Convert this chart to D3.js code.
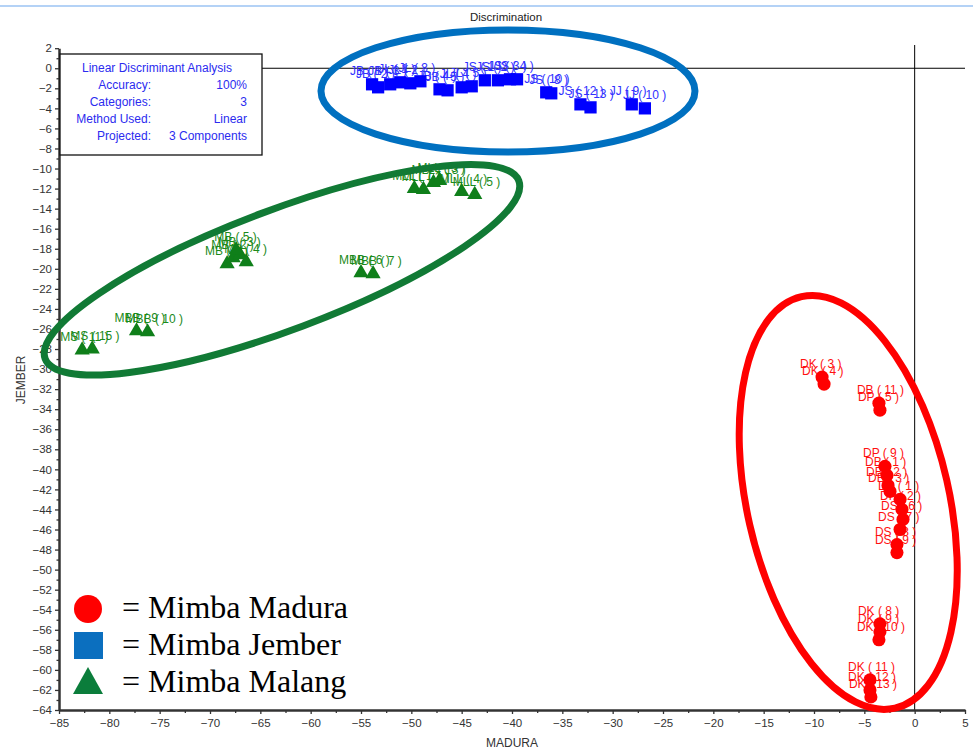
<!DOCTYPE html>
<html><head><meta charset="utf-8">
<script src="https://cdn.jsdelivr.net/npm/d3@7"></script>
<style>
html,body{margin:0;padding:0;background:#fff;}
svg{display:block;font-family:Arial,"Liberation Sans",sans-serif;}
</style></head>
<body>
<svg id="chart" width="973" height="749"></svg>
<script>
// ---------- data ----------
const xTicks = d3.range(-85, 6, 5);
const yTicks = d3.range(-64, 3, 2);

const maduraLabels = ["DK ( 3 )","DK ( 4 )","DB ( 11 )","DP ( 5 )","DP ( 9 )","DB ( 1 )","DB ( 2 )","DB ( 3 )","DP ( 1 )","DP ( 2 )","DS ( 6 )","DS ( 7 )","DS ( 8 )","DS ( 9 )","DK ( 8 )","DK ( 9 )","DK ( 10 )","DK ( 11 )","DK ( 12 )","DK ( 13 )"];
const maduraX = [-9.2,-9.0,-3.55,-3.45,-2.95,-2.75,-2.65,-2.45,-1.45,-1.26,-1.16,-1.45,-1.76,-1.76,-3.45,-3.45,-3.55,-4.44,-4.44,-4.35];
const maduraY = [-30.8,-31.5,-33.4,-34.1,-39.7,-40.6,-41.6,-42.2,-43.0,-44.0,-45.0,-46.0,-47.5,-48.3,-55.4,-56.2,-57.0,-61.0,-62.0,-62.7];

const jemberLabels = ["JB ( 1 )","JB ( 2 )","JB ( 3 )","JL ( 1 )","JL ( 2 )","JL ( 3 )","JB ( 4 )","JB ( 5 )","JL ( 4 )","JL ( 5 )","JS ( 1 )","JS ( 2 )","JS ( 3 )","JS ( 4 )","JS ( 10 )","JS ( 8 )","JS ( 12 )","JS ( 13 )","JJ ( 9 )","JJ ( 10 )"];
const jemberX = [-53.9,-53.3,-52.1,-51.1,-50.1,-49.1,-47.2,-46.4,-45.0,-44.0,-42.7,-41.4,-40.2,-39.5,-36.6,-36.1,-33.2,-32.2,-28.1,-26.8];
const jemberY = [-1.6,-1.9,-1.6,-1.4,-1.5,-1.3,-2.1,-2.2,-1.9,-1.8,-1.2,-1.2,-1.1,-1.1,-2.4,-2.5,-3.6,-3.9,-3.6,-4.0];

const malangLabels = ["MLL ( 1 )","MLL ( 2 )","MLL ( 13 )","MLL ( 3 )","MLL ( 4 )","MLL ( 5 )","MB ( 1 )","MB ( 2 )","MB ( 3 )","MB ( 4 )","MB ( 5 )","MBB ( 6 )","MBB ( 7 )","MBB ( 9 )","MBB ( 10 )","MS ( 11 )","MS ( 15 )"];
const malangX = [-49.7,-48.8,-47.8,-47.2,-45.0,-43.7,-68.3,-67.7,-67.0,-66.4,-67.4,-55.0,-53.8,-77.3,-76.2,-82.7,-81.7];
const malangY = [-12.0,-12.1,-11.4,-11.2,-12.3,-12.6,-19.5,-18.9,-18.6,-19.3,-18.1,-20.4,-20.5,-26.2,-26.3,-28.1,-28.0];

const infoRows = [["Accuracy:","100%"],["Categories:","3"],["Method Used:","Linear"],["Projected:","3 Components"]];
const legendNames = ["= Mimba Madura","= Mimba Jember","= Mimba Malang"];

// ---------- setup ----------
const svg = d3.select("#chart");
const x = d3.scaleLinear().domain([-85,5]).range([59,965]);
const y = d3.scaleLinear().domain([2,-64]).range([48.2,710]);

// top slide border
svg.append("line").attr("x1",0).attr("x2",973).attr("y1",6).attr("y2",6)
  .attr("stroke","#b4d2f6").attr("stroke-width",2);

// title
svg.append("text").attr("x",506).attr("y",21).attr("text-anchor","middle")
  .attr("font-size",11.5).attr("fill","#222").text("Discrimination");

// crosshair
svg.append("line").attr("x1",x(0)).attr("x2",x(0)).attr("y1",45).attr("y2",y(-64))
  .attr("stroke","#000").attr("stroke-width",1);
svg.append("line").attr("x1",x(-85)).attr("x2",x(5)).attr("y1",y(0)).attr("y2",y(0))
  .attr("stroke","#000").attr("stroke-width",1);

// axes
const xAxis = d3.axisBottom(x).tickValues(xTicks).tickSize(4).tickSizeOuter(0).tickPadding(5);
const xMinor = d3.axisBottom(x).tickValues(d3.range(-82.5,5,5)).tickSize(3).tickFormat("");
const yAxis = d3.axisLeft(y).tickValues(yTicks).tickSize(4).tickSizeOuter(0).tickPadding(3);
const yMinor = d3.axisLeft(y).tickValues(d3.range(-63,2,2)).tickSize(2.5).tickFormat("");

function styleAxis(g){
  g.select(".domain").attr("stroke","#333").attr("stroke-width",2.5);
  g.selectAll(".tick line").attr("stroke","#333").attr("stroke-width",1.3);
  g.selectAll(".tick text").attr("fill","#333").attr("font-size",11.5)
    .style("font-family","Arial, 'Liberation Sans', sans-serif");
}
const gx = svg.append("g").attr("transform",`translate(0,${y(-64)})`).call(xAxis); styleAxis(gx);
const gxm = svg.append("g").attr("transform",`translate(0,${y(-64)})`).call(xMinor); styleAxis(gxm);
gxm.select(".domain").remove();
const gy = svg.append("g").attr("transform",`translate(${x(-85)},0)`).call(yAxis); styleAxis(gy);
const gym = svg.append("g").attr("transform",`translate(${x(-85)},0)`).call(yMinor); styleAxis(gym);
gym.select(".domain").remove();

// axis titles
svg.append("text").attr("x",512).attr("y",747).attr("text-anchor","middle")
  .attr("font-size",12).attr("fill","#333").text("MADURA");
svg.append("text").attr("transform","translate(25,380) rotate(-90)").attr("text-anchor","middle")
  .attr("font-size",12).attr("fill","#333").text("JEMBER");

// ---------- points ----------
function drawGroup(labels, xs, ys, symbol, size, color, labelColor){
  const data = labels.map((l,i)=>({l, x:xs[i], y:ys[i]}));
  const g = svg.append("g");
  g.selectAll("text").data(data).join("text")
    .attr("x",d=>x(d.x)-22).attr("y",d=>y(d.y)-9)
    .attr("font-size",12).attr("fill",labelColor)
    .style("font-family","'Liberation Sans Narrow', Arial, sans-serif")
    .text(d=>d.l);
  g.selectAll("path").data(data).join("path")
    .attr("transform",d=>`translate(${x(d.x)},${y(d.y)})`)
    .attr("d",d3.symbol().type(symbol).size(size))
    .attr("fill",color);
}
drawGroup(jemberLabels, jemberX, jemberY, d3.symbolSquare, 150, "#0000ff", "#3030ff");
drawGroup(malangLabels, malangX, malangY, d3.symbolTriangle, 100, "#0f7f1a", "#1a8a1a");
drawGroup(maduraLabels, maduraX, maduraY, d3.symbolCircle, 135, "#ff0000", "#ff1010");

// ---------- annotation ellipses ----------
const ellipses = [
  {cx:-40.4, cy:-2.26, rx:187, ry:61, rot:0, color:"#0070c0"},
  {cx:-62.85, cy:-20.1, rx:253, ry:60, rot:-20.6, color:"#117a35"},
  {cx:-6.6, cy:-43.3, rx:101, ry:211, rot:-12.8, color:"#ff0000"}
];
svg.append("g").selectAll("ellipse").data(ellipses).join("ellipse")
  .attr("transform",d=>`translate(${x(d.cx)},${y(d.cy)}) rotate(${d.rot})`)
  .attr("rx",d=>d.rx).attr("ry",d=>d.ry)
  .attr("fill","none").attr("stroke",d=>d.color).attr("stroke-width",7);

// ---------- info box ----------
const box = svg.append("g");
box.append("rect").attr("x",60).attr("y",54).attr("width",202).attr("height",101)
  .attr("fill","#fff").attr("stroke","#111").attr("stroke-width",1.3);
box.append("text").attr("x",157).attr("y",72).attr("text-anchor","middle")
  .attr("font-size",12).attr("fill","#2b2bef").text("Linear Discriminant Analysis");
infoRows.forEach((r,i)=>{
  box.append("text").attr("x",151).attr("y",89+i*17).attr("text-anchor","end")
    .attr("font-size",12).attr("fill","#2b2bef").text(r[0]);
  box.append("text").attr("x",247).attr("y",89+i*17).attr("text-anchor","end")
    .attr("font-size",12).attr("fill","#2b2bef").text(r[1]);
});

// ---------- legend ----------
const leg = svg.append("g");
leg.append("circle").attr("cx",88).attr("cy",609).attr("r",14).attr("fill","#ff0000");
leg.append("rect").attr("x",74).attr("y",632).attr("width",29).attr("height",27).attr("fill","#0b6fbf");
leg.append("path").attr("d","M88,667 L103,694 L73,694 Z").attr("fill","#0b7d3b");
legendNames.forEach((n,i)=>{
  leg.append("text").attr("x",122).attr("y",618+i*37)
    .style("font-family","'Liberation Serif','Times New Roman',serif")
    .attr("font-size",32).attr("fill","#000").text(n);
});
</script>
</body></html>
